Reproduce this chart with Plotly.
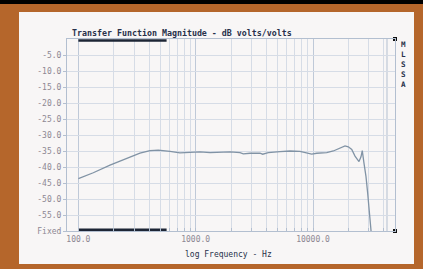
import math
import plotly.graph_objects as go

# ---- data ----
freq_hz = [100, 134, 186, 258, 335, 408, 480, 604, 734, 895, 1089, 1325, 1612, 1962,
           2387, 2548, 2904, 3533, 3724, 4158, 5234, 6367, 7745, 9750, 10760, 13090,
           14900, 17570, 18750, 20000, 21390, 22810, 24660, 25650, 26300, 27200,
           28300, 29250, 30200, 31050, 31600]
mag_db = [-43.6, -41.8, -39.4, -37.3, -35.7, -34.9, -34.7, -35.1, -35.6, -35.4, -35.3,
          -35.5, -35.4, -35.3, -35.5, -35.9, -35.7, -35.7, -36.0, -35.5, -35.2, -35.0,
          -35.1, -36.0, -35.7, -35.5, -35.0, -33.8, -33.4, -33.7, -34.5, -36.6, -38.3,
          -36.8, -34.9, -38.8, -43.0, -48.2, -54.5, -59.7, -62.0]

y_tick_vals = [-5, -10, -15, -20, -25, -30, -35, -40, -45, -50, -55, -60]
y_tick_text = ["-5.0", "-10.0", "-15.0", "-20.0", "-25.0", "-30.0", "-35.0",
               "-40.0", "-45.0", "-50.0", "-55.0", "Fixed"]
x_tick_vals = [100, 1000, 10000]
x_tick_text = ["100.0", "1000.0", "10000.0"]
x_minor_vals = [200, 300, 400, 500, 600, 700, 800, 900,
                2000, 3000, 4000, 5000, 6000, 7000, 8000, 9000,
                20000, 30000, 40000]
x_range_hz = [80, 50000]
y_range_db = [-60, 0]
cursor_range_hz = [100, 565]

title_text = "Transfer Function Magnitude - dB volts/volts"
x_title_text = "log Frequency - Hz"
side_label = "M<br>L<br>S<br>S<br>A"

# ---- style ----
W, H = 423, 269
L, R, T, B = 67, 28, 39, 38
pw, ph = W - L - R, H - T - B

def px(x):
    return (x - L) / pw

def py(y):
    return (H - B - y) / ph

mono = "DejaVu Sans Mono"
dark = "#27304a"
tick_col = "#8d8793"
grid_col = "#d6dce6"
grid_major = "#bfc9d8"
line_col = "#b3bfd0"

fig = go.Figure()

fig.add_trace(go.Scatter(x=freq_hz, y=mag_db, mode="lines",
                         line=dict(color="#8193a5", width=1.3),
                         hoverinfo="skip", showlegend=False))

# cursor bars (top and bottom)
for yv in (y_range_db[1] - 0.45, y_range_db[0] + 0.4):
    fig.add_trace(go.Scatter(x=cursor_range_hz, y=[yv, yv], mode="lines",
                             line=dict(color="#1d2535", width=2.6),
                             hoverinfo="skip", showlegend=False))

# corner markers
fig.add_trace(go.Scatter(x=[x_range_hz[0], x_range_hz[1], x_range_hz[0], x_range_hz[1]],
                         y=[y_range_db[1], y_range_db[1], y_range_db[0], y_range_db[0]],
                         mode="markers", cliponaxis=False,
                         marker=dict(symbol="square", size=4, color="#111111"),
                         hoverinfo="skip", showlegend=False))

shapes = [
    dict(type="rect", xref="paper", yref="paper", x0=px(-5), x1=px(W + 5),
         y0=py(H + 5), y1=py(4), fillcolor="#b5662b", line=dict(width=0), layer="below"),
    dict(type="rect", xref="paper", yref="paper", x0=px(19), x1=px(414),
         y0=py(264), y1=py(12), fillcolor="#f8f6f6", line=dict(width=0), layer="below"),
    dict(type="line", xref="paper", yref="paper", x0=px(387), x1=px(387),
         y0=0, y1=1, line=dict(color=line_col, width=1), layer="below"),
]

annotations = [
    dict(text=title_text, x=px(70), y=py(33), xref="paper", yref="paper",
         xanchor="left", yanchor="middle", showarrow=False,
         font=dict(family=mono, size=8.3, color=dark, weight="bold")),
    dict(text=x_title_text, x=px(228), y=py(254), xref="paper", yref="paper",
         xanchor="center", yanchor="middle", showarrow=False,
         font=dict(family=mono, size=8, color=dark)),
    dict(text=side_label, x=px(403), y=py(38), xref="paper", yref="paper",
         xanchor="center", yanchor="top", showarrow=False,
         font=dict(family=mono, size=7.6, color=dark, weight="bold")),
]

fig.update_layout(
    width=W, height=H, autosize=False,
    margin=dict(l=L, r=R, t=T, b=B, pad=0),
    paper_bgcolor="#000000", plot_bgcolor="rgba(0,0,0,0)",
    shapes=shapes, annotations=annotations, showlegend=False,
    xaxis=dict(type="log", range=[math.log10(x_range_hz[0]), math.log10(x_range_hz[1])],
               tickvals=x_tick_vals, ticktext=x_tick_text,
               tickfont=dict(family=mono, size=8, color=tick_col),
               showgrid=True, gridcolor=grid_major, gridwidth=1,
               ticks="inside", ticklen=3, tickcolor=line_col,
               minor=dict(tickvals=x_minor_vals, showgrid=True, gridcolor=grid_col,
                          ticks="inside", ticklen=3, tickcolor=line_col),
               showline=True, mirror=True, linecolor=line_col, linewidth=1,
               zeroline=False, fixedrange=True),
    yaxis=dict(range=y_range_db, tickvals=y_tick_vals, ticktext=y_tick_text,
               tickfont=dict(family=mono, size=8, color=tick_col),
               showgrid=True, gridcolor=grid_col, gridwidth=1,
               ticks="outside", ticklen=3, tickcolor=line_col,
               showline=True, mirror=True, linecolor=line_col, linewidth=1,
               zeroline=False, fixedrange=True),
)

fig.write_html("out.html", config={"displayModeBar": False},
               post_script="document.body.style.margin='0px';document.body.style.background='#000';")
